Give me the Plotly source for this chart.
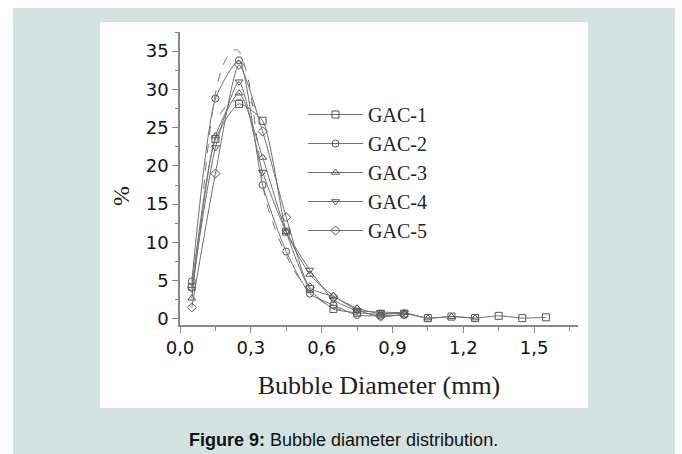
import plotly.graph_objects as go

# ---- data ----
diam = [0.05, 0.15, 0.25, 0.35, 0.45, 0.55, 0.65, 0.75, 0.85, 0.95,
        1.05, 1.15, 1.25, 1.35, 1.45, 1.55]
gac1 = [4.2, 23.5, 28.1, 25.9, 11.4, 3.9, 1.3, 0.8, 0.6, 0.7,
        0.1, 0.3, 0.1, 0.4, 0.1, 0.2]
gac2 = [4.9, 28.8, 33.8, 17.5, 8.8, 3.3, 1.8, 0.5, 0.4, 0.5]
gac3 = [2.7, 23.9, 29.5, 21.1, 11.4, 5.8, 3.0, 1.4, 0.7, 0.8, 0.1, 0.3, 0.1]
gac4 = [3.9, 22.4, 31.0, 19.2, 11.4, 6.4, 2.5, 1.1, 0.9, 0.8]
gac5 = [1.5, 19.0, 33.2, 24.5, 13.3, 4.1, 2.9, 1.2, 0.3, 0.6]
names = ["GAC-1", "GAC-2", "GAC-3", "GAC-4", "GAC-5"]
symbols = ["square-open", "circle-open", "triangle-up-open",
           "triangle-down-open", "diamond-open"]

# fitted curve traces
fit2_x = [0.10, 0.157, 0.20, 0.24, 0.28, 0.32, 0.36, 0.40, 0.44, 0.50, 0.60, 0.70]
fit2_y = [17.0, 30.5, 34.2, 35.2, 32.5, 25.0, 16.0, 12.0, 9.0, 5.5, 2.3, 1.0]
fit1_x = [0.17, 0.21, 0.27, 0.31, 0.34]
fit1_y = [26.8, 28.2, 28.7, 28.0, 26.5]

xtick_vals = [0.0, 0.3, 0.6, 0.9, 1.2, 1.5]
xtick_text = ["0,0", "0,3", "0,6", "0,9", "1,2", "1,5"]
ytick_vals = [0, 5, 10, 15, 20, 25, 30, 35]

W, H = 682, 454
L, R, T, B = 180, 578, 32, 325  # plot area in px


def px(x):
    return (x - L) / (R - L)


def py(y):
    return (B - y) / (B - T)


fig = go.Figure()

series = [gac1, gac2, gac3, gac4, gac5]
for name, sym, vals in zip(names, symbols, series):
    fig.add_trace(go.Scatter(
        x=diam[:len(vals)], y=vals, name=name, mode="lines+markers",
        line=dict(color="#707070", width=1, shape="spline", smoothing=0.6),
        marker=dict(symbol=sym, size=7, color="#555555",
                    line=dict(color="#555555", width=1)),
    ))

for fx, fy in [(fit2_x, fit2_y), (fit1_x, fit1_y)]:
    fig.add_trace(go.Scatter(
        x=fx, y=fy, mode="lines", showlegend=False, hoverinfo="skip",
        line=dict(color="#777777", width=1, shape="spline", dash="dash"),
    ))

shapes = [
    dict(type="rect", xref="paper", yref="paper", layer="below",
         x0=px(13), x1=px(675), y0=py(454), y1=py(8),
         fillcolor="#d3e1e0", line=dict(width=0)),
    dict(type="rect", xref="paper", yref="paper", layer="below",
         x0=px(100), x1=px(588), y0=py(408), y1=py(22),
         fillcolor="white", line=dict(width=0)),
]

annotations = [
    dict(text="%", xref="paper", yref="paper", x=px(121), y=py(196),
         xanchor="center", yanchor="middle",
         showarrow=False, textangle=-90,
         font=dict(family="Liberation Serif", size=24, color="#222")),
    dict(text="<b>Figure 9:</b> Bubble diameter distribution.",
         xref="paper", yref="paper", x=px(343), y=py(440),
         xanchor="center", yanchor="middle",
         showarrow=False,
         font=dict(family="Liberation Sans", size=18, color="#111")),
]

fig.update_layout(
    width=W, height=H,
    margin=dict(l=L, r=W - R, t=T, b=H - B),
    paper_bgcolor="white", plot_bgcolor="rgba(0,0,0,0)",
    shapes=shapes, annotations=annotations,
    legend=dict(x=px(303), y=py(95), xanchor="left", yanchor="top",
                bgcolor="rgba(0,0,0,0)", itemwidth=55, tracegroupgap=0,
                font=dict(family="Liberation Serif", size=20, color="#222")),
    xaxis=dict(range=[0, 1.686], tickvals=xtick_vals, ticktext=xtick_text,
               showgrid=False, zeroline=False, showline=True,
               linecolor="#888888", linewidth=1.5,
               ticks="outside", ticklen=6, tickcolor="#888888",
               minor=dict(dtick=0.15, ticks="outside", ticklen=4,
                          tickcolor="#888888"),
               tickfont=dict(family="DejaVu Sans", size=18, color="#111"),
               title=dict(text="Bubble Diameter (mm)", standoff=18,
                          font=dict(family="Liberation Serif", size=26,
                                    color="#222"))),
    yaxis=dict(range=[-0.8, 37.5], tickvals=ytick_vals,
               showgrid=False, zeroline=False, showline=True,
               linecolor="#888888", linewidth=1.5,
               ticks="outside", ticklen=6, tickcolor="#888888",
               minor=dict(dtick=2.5, ticks="outside", ticklen=3,
                          tickcolor="#888888"),
               tickfont=dict(family="DejaVu Sans", size=18, color="#111")),
)

fig.write_html("out.html")
